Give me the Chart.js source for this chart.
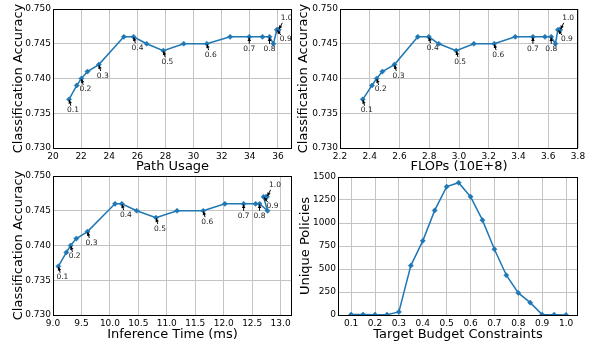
<!DOCTYPE html>
<html>
<head>
<meta charset="utf-8">
<script src="https://cdn.jsdelivr.net/npm/chart.js@4.4.1/dist/chart.umd.min.js"></script>
<style>
    html, body { margin: 0; padding: 0; background: #fff; }
    #wrap { position: relative; width: 595px; height: 343px; overflow: hidden; }
    .panel { position: absolute; }
</style>
</head>
<body>
<div id="wrap">
    <div class="panel" style="left:0;top:0;width:297px;height:174px"><canvas id="c1"></canvas></div>
    <div class="panel" style="left:295px;top:0;width:300px;height:174px"><canvas id="c2"></canvas></div>
    <div class="panel" style="left:0;top:168px;width:297px;height:175px"><canvas id="c3"></canvas></div>
    <div class="panel" style="left:295px;top:168px;width:300px;height:175px"><canvas id="c4"></canvas></div>
</div>
<script>
// ==================================================
// DATA
// ==================================================
const budgets = [0.1, 0.15, 0.2, 0.25, 0.3, 0.35, 0.4, 0.45, 0.5, 0.55, 0.6, 0.65, 0.7, 0.75, 0.8, 0.85, 0.9, 0.95, 1.0];
const accuracy = [0.737, 0.739, 0.740, 0.741, 0.742, 0.746, 0.746, 0.745, 0.744, 0.745, 0.745, 0.746, 0.746, 0.746, 0.746, 0.745, 0.747, 0.747, 0.747];
const pathUsage = [21.14, 21.69, 22.02, 22.45, 23.26, 25.04, 25.73, 26.66, 27.85, 29.30, 30.94, 32.60, 33.96, 34.90, 35.40, 35.68, 35.92, 36.00, 36.05];
const flops = [2.353, 2.415, 2.447, 2.485, 2.566, 2.723, 2.797, 2.864, 2.981, 3.100, 3.237, 3.378, 3.497, 3.578, 3.620, 3.648, 3.665, 3.675, 3.680];
const inferenceTime = [9.094, 9.235, 9.310, 9.410, 9.606, 10.09, 10.21, 10.47, 10.81, 11.18, 11.64, 12.02, 12.35, 12.56, 12.63, 12.77, 12.70, 12.74, 12.76];
const uniquePolicies = [5, 5, 4, 4, 33, 537, 806, 1137, 1395, 1438, 1286, 1031, 715, 432, 240, 134, 4, 3, 1];

// labelled budgets (every 0.1)
const labelBudgets = ['0.1', '0.2', '0.3', '0.4', '0.5', '0.6', '0.7', '0.8', '0.9', '1.0'];

const accTicks = [0.730, 0.735, 0.740, 0.745, 0.750];
const pathTicks = [20, 22, 24, 26, 28, 30, 32, 34, 36];
const flopsTicks = [2.2, 2.4, 2.6, 2.8, 3.0, 3.2, 3.4, 3.6, 3.8];
const timeTicks = [9.0, 9.5, 10.0, 10.5, 11.0, 11.5, 12.0, 12.5, 13.0];
const budgetTicks = [0.1, 0.2, 0.3, 0.4, 0.5, 0.6, 0.7, 0.8, 0.9, 1.0];
const policyTicks = [0, 250, 500, 750, 1000, 1250, 1500];

// ==================================================
// STYLE
// ==================================================
const FONT = 'DejaVu Sans';
const BLUE = '#1f77b4';
const GRID = '#c4c4c4';
// text offset (px) from the point for each labelled budget
const annotOffsets = {
    '0.7': [0, 12], '0.8': [0, 12], '0.9': [9, 9], '1.0': [8, -12],
};
const defaultOffset = [4, 11];

// Frame + arrow annotations
const framePlugin = {
    id: 'frame',
    afterDatasetsDraw(chart, args, opts) {
        if (!opts.annotate) return;
        const { ctx } = chart;
        const pts = chart.getDatasetMeta(0).data;
        ctx.save();
        ctx.font = `7.5px "${FONT}"`;
        ctx.textAlign = 'center';
        ctx.textBaseline = 'middle';
        labelBudgets.forEach(lbl => {
            const i = budgets.findIndex(b => Math.abs(b - parseFloat(lbl)) < 1e-9);
            if (i < 0) return;
            const p = pts[i];
            const [dx, dy] = annotOffsets[lbl] || defaultOffset;
            const hx = p.x + dx * 0.06, hy = p.y + dy * 0.06;
            const tx = p.x + dx * 0.45, ty = p.y + dy * 0.58;
            ctx.strokeStyle = '#000';
            ctx.fillStyle = '#000';
            ctx.lineWidth = 1;
            ctx.beginPath(); ctx.moveTo(tx, ty); ctx.lineTo(hx, hy); ctx.stroke();
            const ang = Math.atan2(hy - ty, hx - tx);
            const L = 3.5, W = 1.8;
            ctx.beginPath();
            ctx.moveTo(hx, hy);
            ctx.lineTo(hx - L * Math.cos(ang) + W * Math.sin(ang), hy - L * Math.sin(ang) - W * Math.cos(ang));
            ctx.lineTo(hx - L * Math.cos(ang) - W * Math.sin(ang), hy - L * Math.sin(ang) + W * Math.cos(ang));
            ctx.closePath(); ctx.fill();
            ctx.fillStyle = '#222';
            ctx.fillText(lbl, p.x + dx, p.y + dy);
        });
        ctx.restore();
    },
    afterDraw(chart) {
        const { ctx, chartArea: a } = chart;
        ctx.save();
        ctx.strokeStyle = '#000';
        ctx.lineWidth = 1;
        ctx.strokeRect(Math.round(a.left) + 0.5, Math.round(a.top) + 0.5, Math.round(a.right - a.left) - 1, Math.round(a.bottom - a.top));
        ctx.restore();
    },
};

function makeChart(id, c) {
    const points = c.xs.map((x, i) => ({ x, y: c.ys[i] }));
    return new Chart(document.getElementById(id), {
        type: 'scatter',
        data: {
            datasets: [{
                data: points, showLine: true, borderColor: BLUE, backgroundColor: BLUE,
                borderWidth: 1.5, pointStyle: 'rectRot', pointRadius: 2.6, pointBorderWidth: 0.5,
            }],
        },
        options: {
            responsive: true, maintainAspectRatio: false, animation: false, devicePixelRatio: 1,
            layout: { padding: { top: c.padTop, right: c.padRight, left: 0, bottom: 0 } },
            plugins: { legend: { display: false }, tooltip: { enabled: false }, frame: { annotate: c.annotate } },
            scales: {
                x: {
                    type: 'linear', min: c.xMin, max: c.xMax,
                    afterBuildTicks: s => { s.ticks = c.xTicks.map(v => ({ value: v })); },
                    afterFit: s => { s.height = c.xHeight; },
                    grid: { color: GRID, lineWidth: 1, drawTicks: false },
                    border: { display: false },
                    ticks: { padding: 3, color: '#000', font: { family: FONT, size: 9 }, maxRotation: 0, callback: c.xFmt },
                    title: { display: true, text: c.xTitle, color: '#000', font: { family: FONT, size: 13, lineHeight: 1 }, padding: { top: 0, bottom: c.xTitlePad } },
                },
                y: {
                    type: 'linear', min: c.yMin, max: c.yMax,
                    afterBuildTicks: s => { s.ticks = c.yTicks.map(v => ({ value: v })); },
                    afterFit: s => { s.width = c.yWidth; },
                    grid: { color: GRID, lineWidth: 1, drawTicks: false },
                    border: { display: false },
                    ticks: { padding: 2, color: '#000', font: { family: FONT, size: 9, lineHeight: 1 }, callback: c.yFmt },
                    title: { display: true, text: c.yTitle, color: '#000', font: { family: FONT, size: 13, lineHeight: 1.2 }, padding: { top: c.yTitlePad, bottom: 0 } },
                },
            },
        },
        plugins: [framePlugin],
    });
}

const accFmt = v => v.toFixed(3);
const oneDec = v => v.toFixed(1);

makeChart('c1', {
    xs: pathUsage, ys: accuracy, annotate: true,
    xMin: 20, xMax: 37, xTicks: pathTicks, xFmt: v => String(v),
    yMin: 0.730, yMax: 0.750, yTicks: accTicks, yFmt: accFmt,
    xTitle: 'Path Usage', yTitle: 'Classification Accuracy',
    padTop: 9, padRight: 5, yWidth: 53, xHeight: 26, xTitlePad: 0.5, yTitlePad: 11,
});

makeChart('c2', {
    xs: flops, ys: accuracy, annotate: true,
    xMin: 2.2, xMax: 3.8, xTicks: flopsTicks, xFmt: oneDec,
    yMin: 0.730, yMax: 0.750, yTicks: accTicks, yFmt: accFmt,
    xTitle: 'FLOPs (10E+8)', yTitle: 'Classification Accuracy',
    padTop: 9, padRight: 17, yWidth: 45, xHeight: 26, xTitlePad: 0.5, yTitlePad: 1,
});

makeChart('c3', {
    xs: inferenceTime, ys: accuracy, annotate: true,
    xMin: 9.0, xMax: 13.2, xTicks: timeTicks, xFmt: oneDec,
    yMin: 0.730, yMax: 0.750, yTicks: accTicks, yFmt: accFmt,
    xTitle: 'Inference Time (ms)', yTitle: 'Classification Accuracy',
    padTop: 8, padRight: 5, yWidth: 53, xHeight: 28, xTitlePad: 1.5, yTitlePad: 11,
});

makeChart('c4', {
    xs: budgets, ys: uniquePolicies, annotate: false,
    xMin: 0.045, xMax: 1.05, xTicks: budgetTicks, xFmt: oneDec,
    yMin: 0, yMax: 1500, yTicks: policyTicks, yFmt: v => String(v),
    xTitle: 'Target Budget Constraints', yTitle: 'Unique Policies',
    padTop: 9, padRight: 17, yWidth: 43, xHeight: 28, xTitlePad: 1.5, yTitlePad: 3,
});
</script>
</body>
</html>
